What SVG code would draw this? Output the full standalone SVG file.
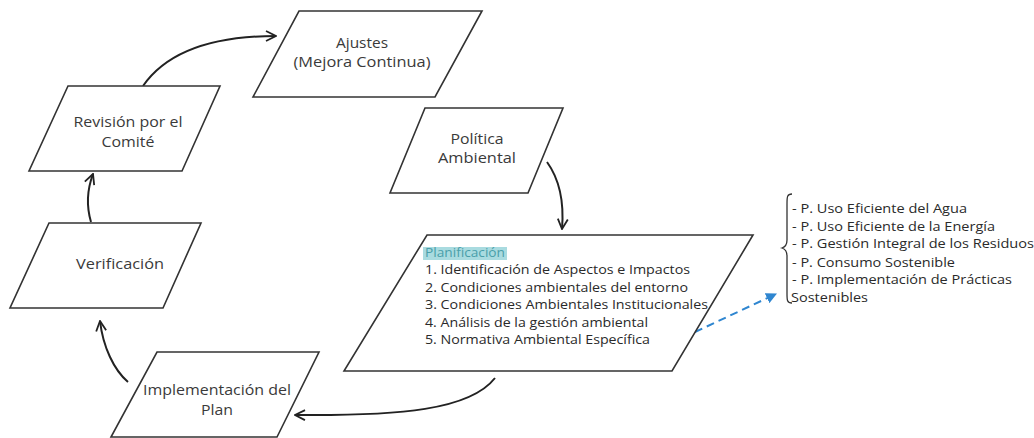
<svg xmlns="http://www.w3.org/2000/svg" width="1034" height="438" viewBox="0 0 1034 438">
<style>
.node{fill:#fff;stroke:#333;stroke-width:1.6}
.lbl{font-family:"Open Sans","Noto Sans","DejaVu Sans",sans-serif;font-size:14px;fill:#3a3a3a;text-anchor:middle}
.txt{font-family:"Open Sans","Noto Sans","DejaVu Sans",sans-serif;font-size:13px;fill:#2a2a2a}
.lst{font-family:"Open Sans","Noto Sans","DejaVu Sans",sans-serif;font-size:12.5px;fill:#2a2a2a}
.con{fill:none;stroke:#222;stroke-width:2}
</style>
<defs>
<marker id="chev" viewBox="0 0 12 12" refX="11" refY="6" markerWidth="12" markerHeight="12" markerUnits="userSpaceOnUse" orient="auto">
<path d="M1,1 L11,6 L1,11" fill="none" stroke="#222" stroke-width="1.8"/>
</marker>
<marker id="blue" viewBox="0 0 10 10" refX="9" refY="5" markerWidth="11" markerHeight="11" markerUnits="userSpaceOnUse" orient="auto">
<path d="M0,0 L10,5 L0,10 Z" fill="#2f86d0"/>
</marker>
</defs>
<rect width="1034" height="438" fill="#fff"/>
<g id="connectors">
<path class="con" d="M143,86 C168,50 215,36 276,36" marker-end="url(#chev)"/>
<path class="con" d="M91,222 C86,205 87,190 93,174" marker-end="url(#chev)"/>
<path class="con" d="M128,382 C114,370 103,347 100,321" marker-end="url(#chev)"/>
<path class="con" d="M495,378 C470,410 400,416 295,415" marker-end="url(#chev)"/>
<path class="con" d="M547,162 C560,180 564,205 562,229" marker-end="url(#chev)"/>
<path d="M695,332 L776,294" fill="none" stroke="#2f86d0" stroke-width="2" stroke-dasharray="8,5" marker-end="url(#blue)"/>
</g>
<g id="ajustes">
<polygon class="node" points="299,11 482,11 435,97 253,97"/>
<text class="lbl" x="362" y="48" textLength="52" lengthAdjust="spacingAndGlyphs">Ajustes</text>
<text class="lbl" x="362" y="67" textLength="137" lengthAdjust="spacingAndGlyphs">(Mejora Continua)</text>
</g>
<g id="revision">
<polygon class="node" points="68,86 220,86 182,171 29,171"/>
<text class="lbl" x="128" y="127" textLength="109" lengthAdjust="spacingAndGlyphs">Revisión por el</text>
<text class="lbl" x="128" y="147" textLength="53" lengthAdjust="spacingAndGlyphs">Comité</text>
</g>
<g id="politica">
<polygon class="node" points="425,108 563,108 528,193 390,193"/>
<text class="lbl" x="477" y="144" textLength="53" lengthAdjust="spacingAndGlyphs">Política</text>
<text class="lbl" x="477" y="163" textLength="78" lengthAdjust="spacingAndGlyphs">Ambiental</text>
</g>
<g id="verificacion">
<polygon class="node" points="49,223 201,223 163,308 10,308"/>
<text class="lbl" x="120" y="269" textLength="88" lengthAdjust="spacingAndGlyphs">Verificación</text>
</g>
<g id="implementacion">
<polygon class="node" points="157,352 319,352 277,437 111,437"/>
<text class="lbl" x="217" y="395" textLength="148" lengthAdjust="spacingAndGlyphs">Implementación del</text>
<text class="lbl" x="217" y="415" textLength="32" lengthAdjust="spacingAndGlyphs">Plan</text>
</g>
<g id="planificacion">
<polygon class="node" points="427,235 753,235 672,371 344,371"/>
<rect x="423" y="247" width="84" height="13" fill="#a9dbe0"/>
<text class="txt" x="425" y="257" style="fill:#4a9faa" textLength="80" lengthAdjust="spacingAndGlyphs">Planificación</text>
<text class="txt" x="425" y="274" textLength="265" lengthAdjust="spacingAndGlyphs">1. Identificación de Aspectos e Impactos</text>
<text class="txt" x="425" y="292" textLength="263" lengthAdjust="spacingAndGlyphs">2. Condiciones ambientales del entorno</text>
<text class="txt" x="425" y="309" textLength="283" lengthAdjust="spacingAndGlyphs">3. Condiciones Ambientales Institucionales</text>
<text class="txt" x="425" y="327" textLength="223" lengthAdjust="spacingAndGlyphs">4. Análisis de la gestión ambiental</text>
<text class="txt" x="425" y="344" textLength="225" lengthAdjust="spacingAndGlyphs">5. Normativa Ambiental Específica</text>
</g>
<g id="programas">
<path d="M792,194 C787,194 787,197 787,204 L787,240 C787,245 785,247 782,248 C785,249 787,251 787,256 L787,294 C787,300 787,303 792,303" fill="none" stroke="#333" stroke-width="1.3"/>
<text class="lst" x="792" y="213" textLength="175" lengthAdjust="spacingAndGlyphs">- P. Uso Eficiente del Agua</text>
<text class="lst" x="792" y="231" textLength="203" lengthAdjust="spacingAndGlyphs">- P. Uso Eficiente de la Energía</text>
<text class="lst" x="792" y="248" textLength="242" lengthAdjust="spacingAndGlyphs">- P. Gestión Integral de los Residuos</text>
<text class="lst" x="792" y="267" textLength="163" lengthAdjust="spacingAndGlyphs">- P. Consumo Sostenible</text>
<text class="lst" x="792" y="284" textLength="220" lengthAdjust="spacingAndGlyphs">- P. Implementación de Prácticas</text>
<text class="lst" x="791" y="302" textLength="77" lengthAdjust="spacingAndGlyphs">Sostenibles</text>
</g>
</svg>
